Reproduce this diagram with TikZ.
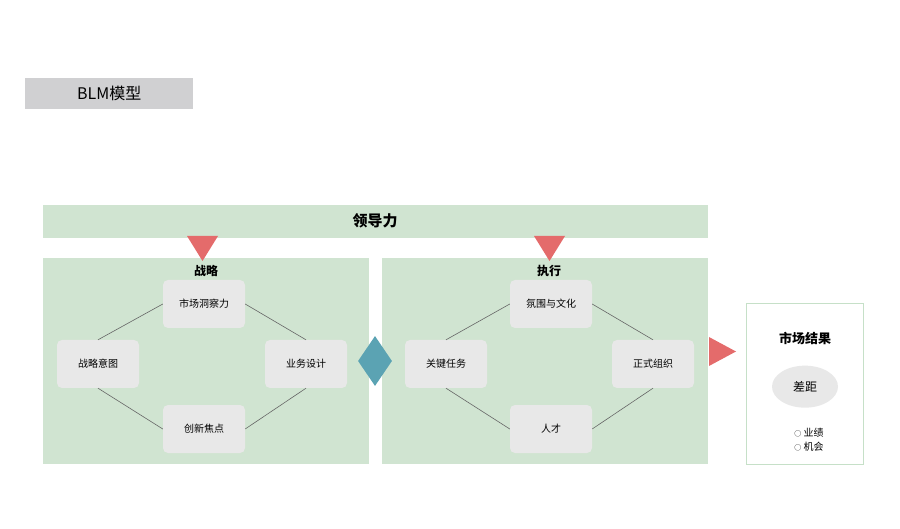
\documentclass[tikz,border=0pt]{standalone}
\usepackage{fontspec}
\setmainfont{Noto Sans CJK SC}
\usetikzlibrary{shapes.geometric, positioning}

\definecolor{panelgreen}{HTML}{D0E4D1}
\definecolor{frameline}{HTML}{C6E0C8}
\definecolor{boxgray}{HTML}{E8E8E8}
\definecolor{titlegray}{HTML}{D0D0D2}
\definecolor{arrowred}{HTML}{E46B6B}
\definecolor{linkblue}{HTML}{5BA3B3}

\begin{document}
\begin{tikzpicture}[
        x=1pt, y=-1pt,
        panel/.style={rectangle, fill=panelgreen, inner sep=0pt, anchor=north west},
        element/.style={rectangle, fill=boxgray, rounded corners=5pt, minimum width=82pt, minimum height=48pt, inner sep=0pt, font=\fontsize{10}{12}\selectfont},
        heading/.style={font=\bfseries\fontsize{12}{14}\selectfont, inner sep=0pt},
        tri/.style={fill=arrowred},
        link/.style={draw=black!60, line width=0.6pt}
    ]
        \useasboundingbox (0,0) rectangle (900,529);

        % Title
        \node[rectangle, fill=titlegray, anchor=north west, minimum width=168pt, minimum height=31pt, inner sep=0pt, font=\fontsize{16}{19}\selectfont] (title) at (25,78) {BLM模型};

        % Leadership
        \node[panel, minimum width=665pt, minimum height=33pt] (lead) at (43,205) {};
        \node[font=\bfseries\fontsize{15}{18}\selectfont] (leadtext) at (375,221) {领导力};

        % Panels
        \node[panel, minimum width=326pt, minimum height=206pt] (strategy) at (43,258) {};
        \node[panel, minimum width=326pt, minimum height=206pt] (execution) at (382,258) {};
        \node[heading] (strategytext) at (206,271) {战略};
        \node[heading] (executiontext) at (549,271) {执行};

        % Arrows from leadership
        \fill[tri] (187,236) -- (218,236) -- (202.5,261) -- cycle;
        \fill[tri] (534,236) -- (565,236) -- (549.5,261) -- cycle;

        % Strategy
        \node[element] (insight) at (204,304) {市场洞察力};
        \node[element] (intent) at (98,364) {战略意图};
        \node[element] (design) at (306,364) {业务设计};
        \node[element] (focus) at (204,429) {创新焦点};

        \draw[link] (insight.west) -- (intent.north);
        \draw[link] (insight.east) -- (design.north);
        \draw[link] (intent.south) -- (focus.west);
        \draw[link] (design.south) -- (focus.east);

        % Execution
        \node[element] (culture) at (551,304) {氛围与文化};
        \node[element] (tasks) at (446,364) {关键任务};
        \node[element] (org) at (653,364) {正式组织};
        \node[element] (talent) at (551,429) {人才};

        \draw[link] (culture.west) -- (tasks.north);
        \draw[link] (culture.east) -- (org.north);
        \draw[link] (tasks.south) -- (talent.west);
        \draw[link] (org.south) -- (talent.east);

        % Link between panels
        \node[diamond, fill=linkblue, minimum width=34pt, minimum height=50pt, inner sep=0pt] (bridge) at (375,361) {};

        % Results
        \fill[tri] (709,337) -- (736,351.5) -- (709,366) -- cycle;
        \node[rectangle, draw=frameline, line width=1pt, fill=white, anchor=north west, minimum width=117pt, minimum height=161pt, inner sep=0pt] (results) at (746,303) {};
        \node[heading, font=\bfseries\fontsize{13}{15}\selectfont] (resultstext) at (805,338) {市场结果};
        \node[ellipse, fill=boxgray, minimum width=66pt, minimum height=42pt, inner sep=0pt, font=\fontsize{12}{14}\selectfont, below=21pt of resultstext] (gap) {差距};
        \node[align=left, inner sep=0pt, font=\fontsize{10}{14}\selectfont] (items) at (809,440) {{\scriptsize ○} 业绩\\{\scriptsize ○} 机会};

    \end{tikzpicture}
\end{document}
